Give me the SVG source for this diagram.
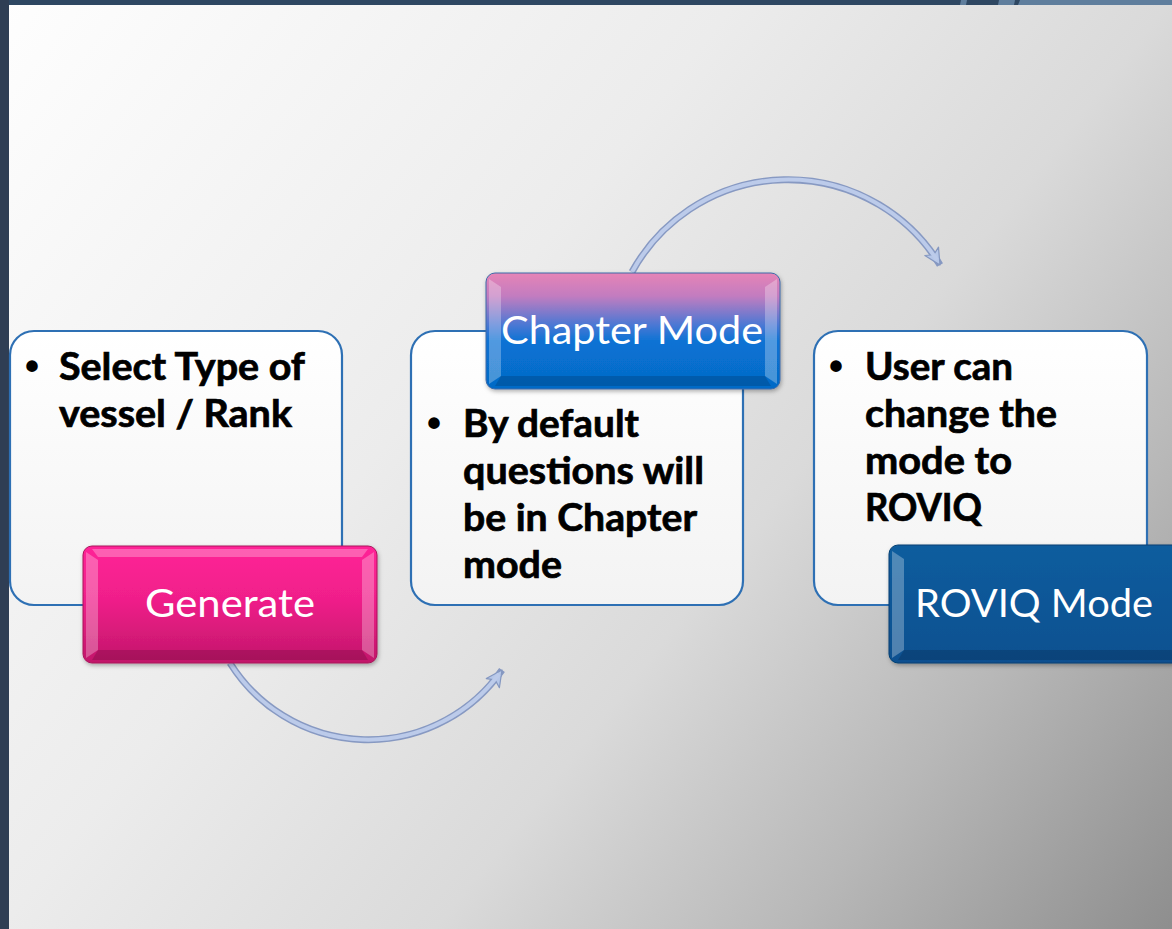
<svg xmlns="http://www.w3.org/2000/svg" width="1172" height="929" viewBox="0 0 1172 929">
<defs>
<linearGradient id="bg" gradientUnits="userSpaceOnUse" x1="0" y1="0" x2="1172" y2="929">
<stop offset="0" stop-color="#fefefe"/>
<stop offset="0.386" stop-color="#ececec"/>
<stop offset="0.614" stop-color="#dadada"/>
<stop offset="0.8" stop-color="#b8b8b8"/>
<stop offset="1" stop-color="#8e8e8e"/>
</linearGradient>
<linearGradient id="boxFill" x1="0" y1="0" x2="0" y2="1">
<stop offset="0" stop-color="#ffffff"/>
<stop offset="1" stop-color="#f3f3f3"/>
</linearGradient>
<linearGradient id="pink" x1="0" y1="0" x2="0" y2="1">
<stop offset="0" stop-color="#ff2497"/>
<stop offset="0.45" stop-color="#f01f8a"/>
<stop offset="1" stop-color="#c2166a"/>
</linearGradient>
<linearGradient id="chap" x1="0" y1="0" x2="0" y2="1">
<stop offset="0" stop-color="#e684b6"/>
<stop offset="0.2" stop-color="#c27cc0"/>
<stop offset="0.45" stop-color="#4a78d4"/>
<stop offset="0.6" stop-color="#0872d4"/>
<stop offset="1" stop-color="#056ac6"/>
</linearGradient>
<linearGradient id="rov" x1="0" y1="0" x2="0" y2="1">
<stop offset="0" stop-color="#0d5d9e"/>
<stop offset="1" stop-color="#085090"/>
</linearGradient>
<filter id="sh" x="-10%" y="-10%" width="130%" height="130%">
<feDropShadow dx="1" dy="2" stdDeviation="2" flood-color="#000" flood-opacity="0.3"/>
</filter>
<marker id="head" markerUnits="userSpaceOnUse" markerWidth="24" markerHeight="24" refX="18" refY="10" orient="auto" viewBox="0 0 24 20">
<path d="M2,2 L18,10 L2,18 L6,10 Z" fill="#b6c7e8" stroke="#8497c0" stroke-width="1.2" stroke-linejoin="round"/>
</marker>
</defs>
<style>
.box{fill:url(#boxFill);stroke:#2e70b4;stroke-width:2.2}
.t{font-family:Lato,"Open Sans","Liberation Sans",sans-serif;font-weight:bold;font-size:38px;fill:#000;stroke:#000;stroke-width:0.7}
.bul{font-family:"Liberation Sans",Arial,sans-serif;font-weight:bold;font-size:40px;fill:#000}
.lbl{font-family:Lato,"Open Sans","Liberation Sans",sans-serif;font-size:39px;fill:#fff;text-anchor:middle}
.arcO{fill:none;stroke:#8799c2;stroke-width:7}
.arcI{fill:none;stroke:#bccbea;stroke-width:4}
.bevL{fill:#fff;opacity:0.28}
.bevD{fill:#000;opacity:0.15}
</style>
<rect width="1172" height="929" fill="url(#bg)"/>
<rect x="0" y="0" width="1172" height="5" fill="#2e4762"/>
<polygon points="1020,0 1172,0 1172,5 1018,5" fill="#5f7e9d"/>
<polygon points="961,0 967,0 966,5 960,5" fill="#5f7e9d"/>
<polygon points="999,0 1015,0 1014,5 998,5" fill="#5f7e9d"/>
<rect x="0" y="0" width="9" height="929" fill="#2f3e54"/>

<g id="connectors">
<path class="arcO" d="M230,663 A163,163 0 0 0 502,670" marker-end="url(#head)"/>
<path class="arcI" d="M230,663 A163,163 0 0 0 499,674"/>
<path class="arcO" d="M632,272 A178,178 0 0 1 940,265" marker-end="url(#head)"/>
<path class="arcI" d="M632,272 A178,178 0 0 1 937,260"/>
</g>

<g id="node-select">
<rect class="box" x="10" y="331" width="332" height="274" rx="24"/>
<text class="bul" x="25" y="380">•</text>
<text class="t" x="59" y="380" textLength="246" lengthAdjust="spacingAndGlyphs">Select Type of</text>
<text class="t" x="59" y="427" textLength="233" lengthAdjust="spacingAndGlyphs">vessel / Rank</text>
</g>
<g id="node-generate">
<rect x="83" y="546" width="294" height="117" rx="9" fill="url(#pink)" stroke="#a8145a" stroke-width="1" filter="url(#sh)"/>
<polygon class="bevL" points="86,552 98,560 98,650 86,658"/>
<polygon class="bevL" points="374,552 362,560 362,650 374,658"/>
<polygon class="bevD" points="92,660 98,650 362,650 368,660"/>
<polygon class="bevL" points="92,549 368,549 362,557 98,557" opacity="0.12"/>
<text class="lbl" x="230" y="617" textLength="170" lengthAdjust="spacingAndGlyphs">Generate</text>
</g>

<g id="node-default">
<rect class="box" x="411" y="331" width="332" height="274" rx="24"/>
<text class="bul" x="427" y="437">•</text>
<text class="t" x="463" y="437" textLength="176" lengthAdjust="spacingAndGlyphs">By default</text>
<text class="t" x="463" y="484" textLength="241" lengthAdjust="spacingAndGlyphs">questions will</text>
<text class="t" x="463" y="531" textLength="234" lengthAdjust="spacingAndGlyphs">be in Chapter</text>
<text class="t" x="463" y="578" textLength="99" lengthAdjust="spacingAndGlyphs">mode</text>
</g>
<g id="node-chapter">
<rect x="486" y="273" width="294" height="116" rx="9" fill="url(#chap)" stroke="#3c6aa8" stroke-width="1" filter="url(#sh)"/>
<polygon class="bevL" points="489,279 501,287 501,376 489,384"/>
<polygon class="bevL" points="777,279 765,287 765,376 777,384"/>
<polygon class="bevD" points="495,386 501,376 765,376 771,386"/>
<text class="lbl" x="632" y="344" textLength="262" lengthAdjust="spacingAndGlyphs">Chapter Mode</text>
</g>

<g id="node-user">
<rect class="box" x="814" y="331" width="333" height="274" rx="24"/>
<text class="bul" x="829" y="380">•</text>
<text class="t" x="865" y="380" textLength="148" lengthAdjust="spacingAndGlyphs">User can</text>
<text class="t" x="865" y="427" textLength="192" lengthAdjust="spacingAndGlyphs">change the</text>
<text class="t" x="865" y="474" textLength="147" lengthAdjust="spacingAndGlyphs">mode to</text>
<text class="t" x="865" y="521" textLength="117" lengthAdjust="spacingAndGlyphs">ROVIQ</text>
</g>
<g id="node-roviq">
<rect x="889" y="545" width="294" height="118" rx="9" fill="url(#rov)" stroke="#063f72" stroke-width="1" filter="url(#sh)"/>
<polygon class="bevL" points="892,551 904,559 904,650 892,658"/>
<polygon class="bevD" points="898,660 904,650 1183,650 1183,660"/>
<text class="lbl" x="1034" y="617" textLength="238" lengthAdjust="spacingAndGlyphs">ROVIQ Mode</text>
</g>
</svg>
